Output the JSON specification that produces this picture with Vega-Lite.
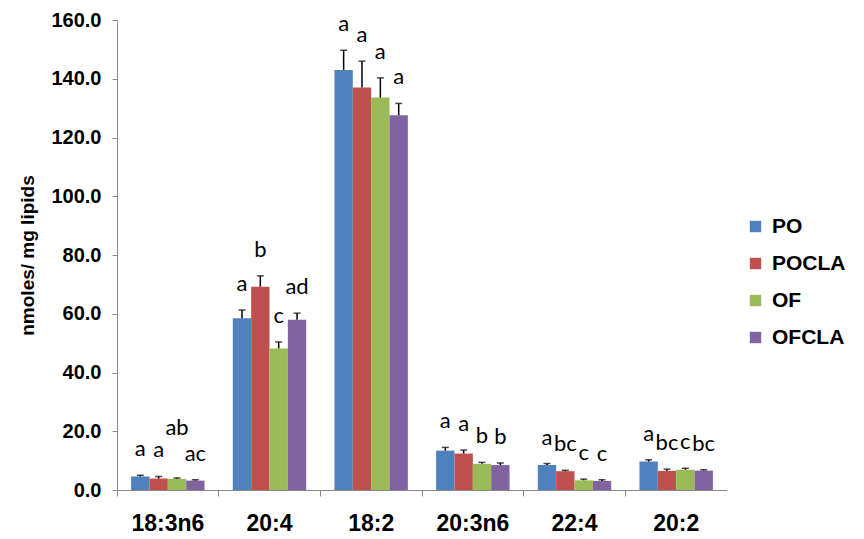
{
  "$schema": "https://vega.github.io/schema/vega-lite/v6.json",
  "width": 610,
  "height": 470,
  "autosize": {"type": "none"},
  "padding": {"left": 117, "top": 20, "right": 137, "bottom": 49},
  "background": "white",
  "config": {"view": {"stroke": null}},
  "data": {"values": [
    {"acid": "18:3n6", "group": "PO", "value": 4.6, "hi": 5.0, "letter": "a"},
    {"acid": "18:3n6", "group": "POCLA", "value": 3.9, "hi": 4.6, "letter": "a"},
    {"acid": "18:3n6", "group": "OF", "value": 3.8, "hi": 4.1, "letter": "ab"},
    {"acid": "18:3n6", "group": "OFCLA", "value": 3.2, "hi": 3.5, "letter": "ac"},
    {"acid": "20:4", "group": "PO", "value": 58.5, "hi": 61.3, "letter": "a"},
    {"acid": "20:4", "group": "POCLA", "value": 69.2, "hi": 72.9, "letter": "b"},
    {"acid": "20:4", "group": "OF", "value": 48.2, "hi": 50.4, "letter": "c"},
    {"acid": "20:4", "group": "OFCLA", "value": 58.0, "hi": 60.2, "letter": "ad"},
    {"acid": "18:2", "group": "PO", "value": 143.0, "hi": 149.7, "letter": "a"},
    {"acid": "18:2", "group": "POCLA", "value": 137.0, "hi": 146.0, "letter": "a"},
    {"acid": "18:2", "group": "OF", "value": 133.6, "hi": 140.3, "letter": "a"},
    {"acid": "18:2", "group": "OFCLA", "value": 127.6, "hi": 131.6, "letter": "a"},
    {"acid": "20:3n6", "group": "PO", "value": 13.4, "hi": 14.5, "letter": "a"},
    {"acid": "20:3n6", "group": "POCLA", "value": 12.4, "hi": 13.6, "letter": "a"},
    {"acid": "20:3n6", "group": "OF", "value": 8.9, "hi": 9.4, "letter": "b"},
    {"acid": "20:3n6", "group": "OFCLA", "value": 8.5, "hi": 9.2, "letter": "b"},
    {"acid": "22:4", "group": "PO", "value": 8.5, "hi": 9.0, "letter": "a"},
    {"acid": "22:4", "group": "POCLA", "value": 6.4, "hi": 6.7, "letter": "bc"},
    {"acid": "22:4", "group": "OF", "value": 3.3, "hi": 3.7, "letter": "c"},
    {"acid": "22:4", "group": "OFCLA", "value": 3.1, "hi": 3.5, "letter": "c"},
    {"acid": "20:2", "group": "PO", "value": 9.7, "hi": 10.3, "letter": "a"},
    {"acid": "20:2", "group": "POCLA", "value": 6.5, "hi": 7.1, "letter": "bc"},
    {"acid": "20:2", "group": "OF", "value": 6.9, "hi": 7.4, "letter": "c"},
    {"acid": "20:2", "group": "OFCLA", "value": 6.6, "hi": 6.9, "letter": "bc"}
  ]},
  "encoding": {
    "x": {
      "field": "acid", "type": "nominal",
      "sort": ["18:3n6", "20:4", "18:2", "20:3n6", "22:4", "20:2"],
      "scale": {"paddingInner": 0, "paddingOuter": 0},
      "axis": {
        "title": null, "labelAngle": 0, "bandPosition": 0,
        "labelFont": "Liberation Sans", "labelFontWeight": "bold", "labelFontSize": 23,
        "labelColor": "black", "labelPadding": 16,
        "domainColor": "#888888", "tickColor": "#888888", "tickSize": 6
      }
    },
    "xOffset": {
      "field": "group", "type": "nominal",
      "sort": ["PO", "POCLA", "OF", "OFCLA"],
      "scale": {"paddingInner": 0, "paddingOuter": 0.77}
    },
    "y": {
      "field": "value", "type": "quantitative",
      "scale": {"domain": [0, 160], "nice": false},
      "axis": {
        "title": "nmoles/ mg lipids", "values": [0, 20, 40, 60, 80, 100, 120, 140, 160],
        "format": ".1f", "grid": false,
        "labelFont": "Liberation Sans", "labelFontWeight": "bold", "labelFontSize": 20,
        "labelColor": "black", "labelPadding": 11,
        "titleFont": "Liberation Sans", "titleFontWeight": "bold", "titleFontSize": 19,
        "titleColor": "black", "titlePadding": 13,
        "domainColor": "#888888", "tickColor": "#888888", "tickSize": 5
      }
    }
  },
  "layer": [
    {
      "mark": {"type": "bar"},
      "encoding": {
        "color": {
          "field": "group", "type": "nominal",
          "sort": ["PO", "POCLA", "OF", "OFCLA"],
          "scale": {"domain": ["PO", "POCLA", "OF", "OFCLA"], "range": ["#4F81BD", "#C0504D", "#9BBB59", "#8064A2"]},
          "legend": {
            "title": null, "orient": "none", "legendX": 628, "legendY": 196,
            "symbolType": "square", "symbolSize": 130, "symbolStrokeWidth": 0,
            "labelFont": "Liberation Sans", "labelFontWeight": "bold", "labelFontSize": 21,
            "labelColor": "black", "rowPadding": 15, "labelOffset": 6
          }
        }
      }
    },
    {
      "mark": {"type": "rule", "color": "black", "strokeWidth": 1.5},
      "encoding": {"y2": {"field": "hi"}}
    },
    {
      "mark": {"type": "tick", "color": "black", "thickness": 1.5, "size": 7},
      "encoding": {"y": {"field": "hi", "type": "quantitative"}}
    },
    {
      "transform": [{"filter": "!(datum.acid == '18:3n6' && datum.group == 'OF')"}],
      "mark": {"type": "text", "baseline": "bottom", "dy": -14, "font": "Lato", "fontSize": 22, "color": "black"},
      "encoding": {
        "y": {"field": "hi", "type": "quantitative"},
        "text": {"field": "letter"}
      }
    },
    {
      "transform": [{"filter": "datum.acid == '18:3n6' && datum.group == 'OF'"}],
      "mark": {"type": "text", "baseline": "bottom", "dy": -38, "font": "Lato", "fontSize": 22, "color": "black"},
      "encoding": {
        "y": {"field": "hi", "type": "quantitative"},
        "text": {"field": "letter"}
      }
    }
  ]
}
